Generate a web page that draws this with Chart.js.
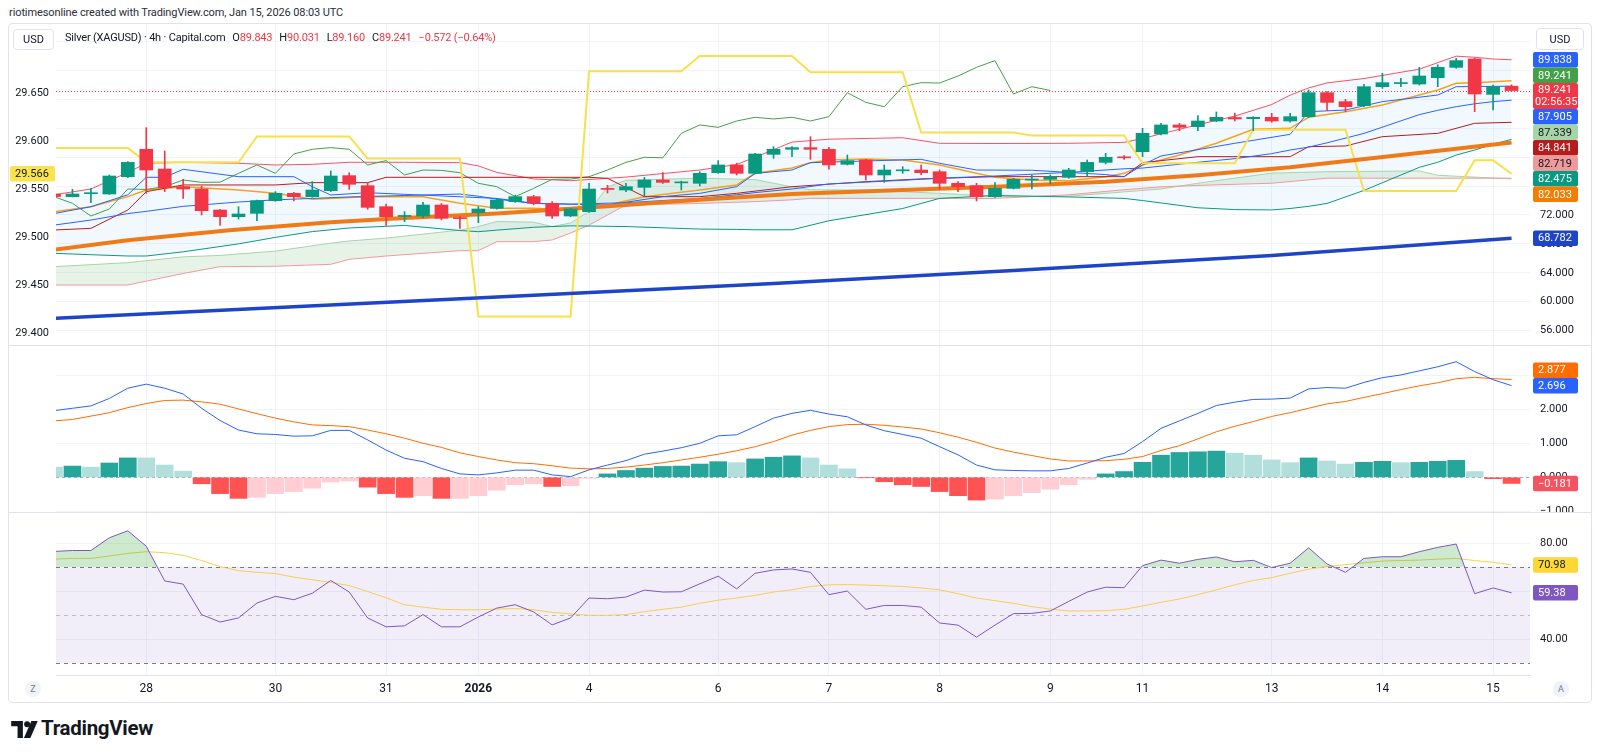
<!DOCTYPE html>
<html>
<head>
<meta charset="utf-8">
<script src="https://cdn.jsdelivr.net/npm/chart.js@4.4.1/dist/chart.umd.min.js"></script>
<style>
  body { margin: 0; width: 1600px; height: 756px; background: #fff; position: relative; overflow: hidden;
         font-family: Roboto, "Liberation Sans", sans-serif; color: #131722; }
  .abs { position: absolute; white-space: nowrap; }
  canvas { position: absolute; left: 8px; }
  #frame { left: 8px; top: 23px; width: 1584px; height: 680px; border: 1px solid #e0e3eb; border-radius: 4px; box-sizing: border-box; z-index: 5; }
  .sep { left: 8px; width: 1584px; height: 1px; background: #e0e3eb; z-index: 4; }
  .box { border: 1px solid #e0e3eb; border-radius: 4px; background: #fff; font-size: 11px; display: flex; align-items: center; justify-content: center; box-sizing: border-box; z-index: 6; }
  .legend { font-size: 11px; letter-spacing: -0.2px; top: 31px; left: 65px; z-index: 6; }
  .legend span.g { margin-left: 7px; }
  .red { color: #F23645; }
  .circ { width: 16px; height: 16px; border-radius: 8px; background: #f0f3fa; color: #787b86; font-size: 9px; display: flex; align-items: center; justify-content: center; }
</style>
</head>
<body>
<div class="abs" style="left:9px;top:6px;font-size:11px;letter-spacing:-0.1px;color:#2a2e39;">riotimesonline created with TradingView.com, Jan 15, 2026 08:03 UTC</div>

<canvas id="main" width="1584" height="321" style="top:24px"></canvas>
<canvas id="macd" width="1584" height="167" style="top:345px"></canvas>
<canvas id="rsi" width="1584" height="190" style="top:512px"></canvas>

<div id="frame" class="abs"></div>
<div class="abs sep" style="top:345px"></div>
<div class="abs sep" style="top:512px"></div>

<div class="abs box" style="left:13px;top:29px;width:41px;height:21px;">USD</div>
<div class="abs box" style="left:1536px;top:28px;width:48px;height:22px;">USD</div>

<div class="abs legend">Silver (XAGUSD) · 4h · Capital.com<span class="g">O<span class="red">89.843</span></span><span class="g">H<span class="red">90.031</span></span><span class="g">L<span class="red">89.160</span></span><span class="g">C<span class="red">89.241</span></span><span class="g red">−0.572 (−0.64%)</span></div>

<div class="abs circ" style="left:25px;top:681px;">Z</div>
<div class="abs circ" style="left:1553px;top:681px;">A</div>

<svg class="abs" style="left:11px;top:721px" width="28" height="17" viewBox="0 0 26 16">
  <path d="M0 0 H11 V16 H6 V5 H0 Z" fill="#131722"/>
  <circle cx="15" cy="3" r="2.8" fill="#131722"/>
  <path d="M19 0 H25 L18 16 H12 Z" fill="#131722"/>
</svg>
<div class="abs" style="left:41px;top:716px;font-size:20.5px;font-weight:700;letter-spacing:-0.3px;">TradingView</div>

<script>
// ---- time axis ----
const dayTicks = [5, 12, 18, 23, 29, 36, 42, 48, 54, 59, 66, 72, 78];
const dayLabels = ['28', '30', '31', '2026', '4', '6', '7', '8', '9', '11', '13', '14', '15'];

// ---- 4h candles ----
const opens = [74.90,74.54,74.95,74.91,77.31,81.10,78.37,75.92,75.60,72.69,
  71.77,72.23,73.98,75.00,74.54,75.37,77.45,76.06,73.15,71.80,
  71.86,73.38,71.60,72.32,72.92,73.85,74.54,73.62,71.86,72.46,
  75.65,75.46,75.83,76.85,76.45,76.39,77.86,78.93,77.77,80.40,
  81.10,81.33,81.10,79.02,79.62,77.54,78.12,78.23,78.00,76.39,
  76.06,74.54,75.69,76.85,76.94,77.22,78.00,79.29,80.00,80.77,
  83.22,84.47,84.24,85.02,85.50,85.34,85.53,85.02,85.62,88.94,
  87.70,87.14,89.77,90.20,90.14,91.02,92.45,93.61,88.71,89.843];
const highs = [74.95,75.56,75.69,77.54,79.39,84.10,80.86,76.94,76.00,72.78,
  73.15,74.08,75.23,75.15,76.62,78.09,77.86,76.48,73.52,72.46,
  73.75,73.60,71.80,73.15,74.31,74.75,74.72,73.85,72.92,76.39,
  76.10,76.39,77.22,77.86,76.69,78.00,79.53,79.16,80.54,81.46,
  81.46,82.85,81.37,80.31,79.71,78.93,78.69,78.93,78.23,76.62,
  76.39,76.48,77.08,77.54,77.54,78.46,79.62,80.54,80.22,84.00,
  84.70,84.70,85.76,86.27,86.10,85.62,86.08,86.08,89.31,89.08,
  88.02,90.10,91.62,90.93,92.45,92.80,93.70,93.75,89.99,90.031];
const lows = [74.50,74.50,73.71,74.85,77.17,75.00,75.23,74.31,72.00,70.57,
  71.45,71.20,73.90,73.94,74.45,75.25,75.55,72.78,70.57,71.08,
  71.60,71.31,70.15,70.94,72.80,73.75,73.40,71.54,71.75,72.37,
  75.05,75.23,74.68,76.39,75.46,76.02,77.77,77.54,77.68,79.85,
  80.08,79.71,78.33,78.93,76.85,76.52,77.77,77.59,75.55,75.23,
  73.94,74.45,75.60,75.60,76.29,77.08,77.40,79.06,79.71,80.08,
  83.08,83.68,83.68,84.93,85.02,83.68,84.84,84.84,85.48,86.45,
  86.31,87.00,89.54,89.77,90.00,89.77,92.31,86.31,86.54,89.160];
const closes = [74.55,74.91,75.00,77.40,79.29,78.23,75.79,75.60,72.60,71.77,
  72.14,73.98,75.00,74.54,75.46,77.40,76.25,73.06,71.77,71.85,
  73.38,71.54,71.50,72.83,74.08,74.54,73.62,71.86,72.83,75.60,
  75.55,75.92,76.85,76.52,76.55,77.77,78.93,77.77,80.45,81.10,
  81.33,81.10,78.93,79.53,77.54,78.23,78.18,77.86,76.39,75.92,
  74.54,75.69,76.94,76.98,77.31,78.23,79.29,79.99,79.92,83.31,
  84.47,84.14,85.02,85.53,85.30,85.53,85.02,85.62,88.94,87.60,
  87.00,89.77,90.33,90.28,91.25,92.45,93.38,88.76,89.77,89.241];

// ---- Bollinger Bands ----
const bbX = [0,2,4,5,7,10,12,14,16,19,22,23,24,26,28,31,35,37,38,40,42,46,48,51,55,58,59,62,64,66,67,68,69,71,74,75,76,77,78,79];
const bbUpper = [74.8,75.6,77.9,79.16,79.3,79.16,78.93,79.02,79.3,79.3,79.25,78.8,77.9,77.0,76.75,77.25,78.23,79.0,80.0,82.1,
  82.5,82.7,81.93,81.9,81.93,82.06,82.6,84.5,85.7,87.3,88.6,89.6,90.3,90.9,92.2,93.1,94.0,93.85,93.6,93.5];
const bbLower = [66.69,66.5,66.32,66.32,66.9,68.0,68.9,69.7,70.2,70.55,69.85,69.69,69.9,70.3,70.5,70.4,70.05,70.0,69.95,69.95,
  71.2,72.9,74.3,74.7,74.5,74.3,74.0,73.0,72.75,72.7,72.9,73.2,73.6,75.4,78.6,79.3,80.3,81.0,81.8,82.48];
const bbBasis = [70.6,71.3,72.2,72.5,73.2,73.8,74.1,74.3,74.5,74.7,74.9,74.6,74.2,73.6,73.5,73.7,74.3,74.8,75.1,75.6,
  76.3,76.8,77.1,77.4,77.9,78.4,78.5,79.3,79.8,80.5,81.0,81.4,82.0,83.3,85.9,86.5,87.0,87.4,87.7,87.905];

// ---- Ichimoku ----
const cloudX = [0,4,7,9,12,15,16,18,22,23,24,26,27,28,29,30,31,35,38,40,41,44,48,51,55,58,60,62,66,69,74,75,79];
const spanA = [64.84,65.4,66.2,66.4,67.0,68.1,68.4,68.8,69.9,70.4,71.1,71.0,70.4,70.9,72.5,75.9,76.8,77.1,76.9,75.9,
  75.5,75.46,75.0,74.6,74.6,75.2,75.6,76.4,77.8,78.0,78.1,77.5,77.0];
const spanB = [62.3,62.3,63.9,64.84,64.9,65.17,65.86,66.32,67.06,67.06,68.31,68.31,68.54,69.5,70.6,72.0,73.4,73.6,73.85,74.1,
  74.3,74.3,74.3,74.3,74.8,75.5,75.9,76.1,76.4,77.1,77.1,77.1,77.1];
const conversion = [[0,72.2],[2,73.15],[4,74.8],[5,77.22],[6,77.22],[7,78.33],[10,77.31],[13,77.31],[14,75.92],[15,74.77],
  [17,75.09],[24,74.3],[26,73.62],[30,73.38],[33,74.54],[35,75.0],[37,75.92],[38,77.77],[40,78.23],[41,79.25],
  [47,79.71],[48,79.16],[50,78.23],[53,78.2],[57,77.6],[58,77.31],[59,78.93],[60,80.17],[64,81.93],[67,83.17],
  [68,86.31],[70,86.54],[72,87.7],[75,88.62],[76,89.77],[79,89.84]];
const baseLine = [[0,69.92],[2,70.15],[4,72.69],[5,75.23],[7,76.16],[12,76.16],[14,76.48],[17,76.48],[18,77.22],[29,77.22],
  [30,77.08],[32,74.54],[35,74.54],[37,75.0],[40,75.92],[44,76.62],[47,77.0],[51,77.31],[58,77.31],[59,79.25],
  [62,80.08],[67,80.08],[68,81.46],[70,81.56],[72,82.85],[75,83.31],[77,84.7],[79,84.84]];
const laggingShift = 25;

// ---- moving averages ----
const emaFast = [[0,72.46],[2,73.15],[4,74.54],[5,75.46],[7,75.92],[10,75.46],[12,75.0],[14,74.17],[17,74.54],[20,74.54],
  [22,73.62],[24,72.92],[26,72.92],[28,72.69],[30,73.38],[32,74.54],[35,75.46],[37,76.16],[38,77.77],[40,78.5],
  [41,79.25],[42,79.62],[44,79.76],[46,79.62],[48,78.92],[50,77.77],[51,77.22],[53,76.85],[55,76.75],[57,77.31],
  [58,77.77],[59,78.92],[61,80.31],[63,81.93],[65,83.87],[67,84.0],[68,85.53],[70,86.31],[72,87.24],[75,89.31],
  [76,90.24],[77,90.33],[79,90.6]];
const emaMid = [[0,67.2],[4,68.5],[9.5,69.9],[15,71.0],[19,71.6],[24,72.2],[30,73.2],[35,74.1],[40,74.9],[46,75.45],
  [51,75.9],[57,76.6],[62,77.5],[67,78.6],[73,80.3],[79,82.03]];
const emaSlow = [[0,57.7],[13,59.3],[26,60.9],[39,62.5],[52,64.3],[66,66.4],[79,68.78]];

// ---- overlay on the left scale ----
const overlay = [[0,29.593],[4,29.593],[5,29.578],[10,29.578],[11,29.605],[16,29.605],[17,29.582],[22,29.582],[23,29.417],
  [28,29.417],[29,29.673],[34,29.673],[35,29.689],[40,29.689],[41,29.672],[46,29.672],[47,29.609],[52,29.609],
  [53,29.606],[58,29.606],[59,29.577],[64,29.577],[65,29.612],[70,29.612],[71,29.548],[76,29.548],[77,29.580],
  [78,29.580],[79,29.566]];

// ---- MACD ----
const macdLine = [1.96,2.03,2.10,2.32,2.62,2.74,2.62,2.45,2.03,1.67,
  1.39,1.28,1.26,1.21,1.22,1.38,1.38,1.10,0.80,0.56,
  0.46,0.26,0.10,0.07,0.13,0.21,0.21,0.07,0.02,0.22,
  0.36,0.49,0.68,0.77,0.87,1.00,1.22,1.25,1.49,1.74,
  1.88,1.97,1.86,1.78,1.54,1.37,1.26,1.15,0.90,0.66,
  0.36,0.22,0.20,0.19,0.19,0.26,0.42,0.59,0.70,1.05,
  1.44,1.66,1.88,2.11,2.21,2.29,2.30,2.33,2.60,2.64,
  2.62,2.79,2.93,3.01,3.13,3.25,3.40,3.11,2.87,2.696];
const signalLine = [1.66,1.70,1.80,1.90,2.05,2.17,2.26,2.27,2.22,2.15,
  2.01,1.87,1.74,1.63,1.54,1.52,1.49,1.39,1.28,1.15,
  1.00,0.88,0.72,0.61,0.51,0.43,0.40,0.34,0.27,0.25,
  0.26,0.30,0.36,0.43,0.51,0.59,0.68,0.78,0.90,1.05,
  1.24,1.38,1.49,1.55,1.56,1.53,1.48,1.42,1.31,1.18,
  1.03,0.86,0.74,0.64,0.54,0.48,0.48,0.49,0.53,0.61,
  0.79,0.93,1.13,1.34,1.50,1.64,1.79,1.90,2.03,2.16,
  2.23,2.35,2.46,2.58,2.69,2.78,2.90,2.94,2.90,2.877];
const histogram = [0.30,0.33,0.30,0.42,0.57,0.57,0.36,0.18,-0.19,-0.48,
  -0.62,-0.59,-0.48,-0.42,-0.32,-0.14,-0.11,-0.29,-0.48,-0.59,
  -0.54,-0.62,-0.62,-0.54,-0.38,-0.22,-0.19,-0.27,-0.25,-0.03,
  0.10,0.20,0.27,0.32,0.33,0.39,0.46,0.43,0.54,0.59,
  0.63,0.57,0.36,0.25,-0.01,-0.13,-0.22,-0.27,-0.42,-0.54,
  -0.67,-0.64,-0.54,-0.45,-0.35,-0.22,-0.06,0.10,0.17,0.44,
  0.65,0.73,0.75,0.77,0.71,0.65,0.51,0.43,0.57,0.48,
  0.39,0.44,0.47,0.43,0.44,0.47,0.50,0.17,-0.04,-0.181];

// ---- RSI ----
const rsi = [76.6,77.0,77.0,82.3,85.2,78.8,64.3,63.0,50.3,47.2,
  48.9,55.1,57.9,56.5,59.2,64.5,59.7,48.9,45.2,45.6,
  50.3,45.2,45.2,49.3,53.0,54.4,51.4,46.0,48.9,57.2,
  56.9,57.6,60.5,59.7,59.8,63.1,66.3,61.0,67.5,68.9,
  69.3,67.9,58.6,60.1,52.5,54.1,54.1,53.4,46.8,45.9,
  40.9,45.9,50.7,50.8,51.8,55.8,59.7,61.7,61.5,70.7,
  73.0,71.7,73.3,74.3,72.3,72.9,69.9,71.7,78.1,71.4,
  67.9,73.7,74.4,74.4,76.5,78.3,79.7,59.0,61.4,59.38];
const rsiMa = [73.4,73.7,73.7,74.7,75.8,76.5,76.1,75.0,72.8,70.3,
  68.6,67.9,67.4,65.9,64.8,63.7,62.4,59.9,57.3,54.4,
  53.4,52.5,52.3,52.3,52.6,52.8,52.3,51.2,50.6,50.0,
  50.0,50.3,51.5,52.5,53.4,55.0,56.3,57.2,58.3,59.7,
  60.6,62.0,62.7,62.8,62.6,62.3,62.0,61.4,60.6,59.0,
  57.2,56.1,55.0,53.6,52.6,51.8,51.8,51.9,52.5,53.9,
  55.4,56.8,58.6,60.6,62.7,64.5,65.7,67.5,69.2,70.3,
  71.1,71.9,72.6,72.8,73.0,73.4,73.7,72.8,72.1,70.98];
const rsiLevels = [70, 50, 30];

// ---- axis ticks and price tags ----
const priceTicks = [56, 60, 64, 68, 72, 76, 80, 84, 88, 92, 96];
const priceShown = [56, 60, 64, 68, 72];
const leftTicks = [29.40, 29.45, 29.50, 29.55, 29.60, 29.65];
const macdTicks = [-1, 0, 1, 2, 3];
const rsiTicks = [40, 60, 80];
const lastPrice = 89.241;
const mainTags = [
  { v: 89.838, d: 3, bg: '#2962FF', fg: '#fff' },
  { v: 89.241, d: 3, bg: '#43A047', fg: '#fff' },
  { v: 89.241, d: 3, bg: '#F23645', fg: '#fff', sub: '02:56:35' },
  { v: 87.905, d: 3, bg: '#2962FF', fg: '#fff' },
  { v: 87.339, d: 3, bg: '#A5D6A7', fg: '#131722' },
  { v: 84.841, d: 3, bg: '#B71C1C', fg: '#fff' },
  { v: 82.719, d: 3, bg: '#EF9A9A', fg: '#131722' },
  { v: 82.475, d: 3, bg: '#089981', fg: '#fff' },
  { v: 82.033, d: 3, bg: '#F57C00', fg: '#fff' },
  { v: 68.782, d: 3, bg: '#1E45C8', fg: '#fff' }
];
const leftTags = [{ v: 29.566, d: 3, bg: '#FBE44B', fg: '#131722' }];
const macdTags = [
  { v: 2.877, d: 3, bg: '#FF6D00', fg: '#fff' },
  { v: 2.696, d: 3, bg: '#2962FF', fg: '#fff' },
  { v: -0.181, d: 3, bg: '#F7525F', fg: '#fff' }
];
const rsiTags = [
  { v: 70.98, d: 2, bg: '#FDD835', fg: '#131722' },
  { v: 59.38, d: 2, bg: '#7E57C2', fg: '#fff' }
];

const FONT = 'Roboto, "Liberation Sans", sans-serif';
Chart.defaults.font.family = FONT;
Chart.defaults.color = '#131722';
const UP = '#089981', DOWN = '#F23645', GRID = '#f0f3fa';

const pts = arr => arr.map(p => ({ x: p[0], y: p[1] }));
const zipPts = (xs, ys) => xs.map((x, i) => ({ x: x, y: ys[i] }));
const idxPts = arr => arr.map((v, i) => ({ x: i, y: v }));
const fmt = t => t.v.toFixed(t.d).replace('-', '−');

// fixed axis sizes, and no label overhang padding, so the panes line up
function fitY(width) {
  return s => { s.width = width; s.paddingTop = 0; s.paddingBottom = 0; };
}

function xScale(withLabels) {
  return {
    type: 'linear', min: 0.108, max: 80.0, offset: false,
    afterBuildTicks: s => { s.ticks = dayTicks.map(v => ({ value: v })); },
    afterFit: s => { s.height = withLabels ? 27 : 0; s.paddingLeft = 0; s.paddingRight = 0; },
    grid: { color: GRID, drawTicks: false, offset: false },
    border: { display: withLabels, color: '#e0e3eb' },
    ticks: {
      display: withLabels, padding: 7, maxRotation: 0, autoSkip: false,
      font: c => ({ size: 12, weight: (c.tick && c.tick.value === 23) ? 'bold' : 'normal' }),
      callback: v => { const k = dayTicks.indexOf(v); return k >= 0 ? dayLabels[k] : ''; }
    }
  };
}

function line(data, color, width, extra) {
  return Object.assign({ type: 'line', data: data, borderColor: color, borderWidth: width,
    pointRadius: 0, tension: 0, fill: false, order: 5 }, extra || {});
}

function drawTags(chart, sc, tags, fixedIdx, side) {
  const ctx = chart.ctx, H = 15.5, W = 45;
  const items = tags.map(t => ({ t: t, ny: sc.getPixelForValue(t.v), h: t.sub ? 26 : H }));
  items.forEach(it => { it.cy = it.t.sub ? it.ny + 5.5 : it.ny; });
  if (fixedIdx != null) {
    let top = items[fixedIdx].cy - items[fixedIdx].h / 2;
    for (let i = fixedIdx - 1; i >= 0; i--) {
      const it = items[i]; it.cy = Math.min(it.ny, top - it.h / 2); top = it.cy - it.h / 2;
    }
    let bot = items[fixedIdx].cy + items[fixedIdx].h / 2;
    for (let i = fixedIdx + 1; i < items.length; i++) {
      const it = items[i]; it.cy = Math.max(it.ny, bot + it.h / 2); bot = it.cy + it.h / 2;
    }
  }
  const x0 = side === 'left' ? 2 : chart.chartArea.right + 3;
  ctx.save();
  ctx.font = '11px ' + FONT;
  ctx.textBaseline = 'middle';
  items.forEach(it => {
    const top = it.cy - it.h / 2;
    ctx.fillStyle = it.t.bg;
    ctx.beginPath(); ctx.roundRect(x0, top, W, it.h, 2); ctx.fill();
    ctx.fillStyle = it.t.fg;
    if (it.t.sub) {
      ctx.fillText(fmt(it.t), x0 + 5, top + 7.5);
      ctx.fillText(it.t.sub, x0 + 2, top + 19);
    } else {
      ctx.fillText(fmt(it.t), x0 + 5, it.cy + 0.5);
    }
  });
  ctx.restore();
}

// ---- main pane ----
new Chart(document.getElementById('main'), {
  type: 'bar',
  data: {
    datasets: [
      { type: 'bar', data: closes.map((c, i) => ({ x: i, y: [lows[i], highs[i]] })),
        backgroundColor: closes.map((c, i) => c >= opens[i] ? UP : DOWN),
        barThickness: 1, grouped: false, order: 1, yAxisID: 'y' },
      { type: 'bar', data: closes.map((c, i) => ({ x: i, y: [Math.min(opens[i], c), Math.max(opens[i], c)] })),
        backgroundColor: closes.map((c, i) => c >= opens[i] ? UP : DOWN),
        barThickness: 13, minBarLength: 1, grouped: false, order: 0, yAxisID: 'y' },
      line(zipPts(bbX, bbUpper), '#F7525F', 1, { order: 9,
        fill: { target: '+1', above: 'rgba(33,150,243,0.06)', below: 'rgba(33,150,243,0.06)' } }),
      line(zipPts(bbX, bbLower), '#089981', 1),
      line(zipPts(bbX, bbBasis), '#2962FF', 1),
      line(zipPts(cloudX, spanA), '#A5D6A7', 1, { order: 8,
        fill: { target: '+1', above: 'rgba(67,160,71,0.13)', below: 'rgba(244,67,54,0.13)' } }),
      line(zipPts(cloudX, spanB), '#EF9A9A', 1),
      line(pts(conversion), '#2962FF', 1),
      line(pts(baseLine), '#B71C1C', 1),
      line(idxPts(closes.slice(laggingShift)), '#43A047', 1),
      line(pts(emaFast), '#F7A21B', 1.5),
      line(pts(emaMid), '#F07B16', 4, { order: 3 }),
      line(pts(emaSlow), '#1E45C8', 3.5, { order: 3 }),
      line(pts(overlay), '#F9E04B', 2, { yAxisID: 'yL', order: 4 })
    ]
  },
  options: {
    responsive: false, animation: false, devicePixelRatio: 1,
    layout: { padding: 0 },
    plugins: { legend: { display: false }, tooltip: { enabled: false } },
    scales: {
      x: xScale(false),
      y: {
        position: 'right', min: 53.994, max: 98.454,
        afterFit: fitY(62),
        afterBuildTicks: s => { s.ticks = priceTicks.map(v => ({ value: v })); },
        grid: { color: GRID, drawTicks: false },
        border: { display: false },
        ticks: { padding: 10, font: { size: 11 }, callback: v => priceShown.includes(v) ? v.toFixed(3) : '' }
      },
      yL: {
        position: 'left', min: 29.3873, max: 29.7223,
        afterFit: fitY(48),
        afterBuildTicks: s => { s.ticks = leftTicks.map(v => ({ value: v })); },
        grid: { display: false, drawTicks: false },
        border: { display: false },
        ticks: { padding: 7, font: { size: 11 }, callback: v => v.toFixed(3) }
      }
    }
  },
  plugins: [{
    id: 'mainDeco',
    beforeDatasetsDraw(chart) {
      const ctx = chart.ctx, a = chart.chartArea, y = chart.scales.y.getPixelForValue(lastPrice);
      ctx.save();
      ctx.strokeStyle = '#F23645'; ctx.lineWidth = 1; ctx.setLineDash([1, 2]);
      ctx.beginPath(); ctx.moveTo(a.left, Math.round(y) + 0.5); ctx.lineTo(a.right, Math.round(y) + 0.5); ctx.stroke();
      ctx.restore();
    },
    afterDraw(chart) {
      drawTags(chart, chart.scales.y, mainTags, 2, 'right');
      drawTags(chart, chart.scales.yL, leftTags, null, 'left');
    }
  }]
});

// ---- MACD pane ----
function histColor(i) {
  const h = histogram[i], p = i > 0 ? histogram[i - 1] : h;
  if (h >= 0) return h > p ? '#26A69A' : '#B2DFDB';
  return h < p ? '#FF5252' : '#FFCDD2';
}
new Chart(document.getElementById('macd'), {
  type: 'bar',
  data: {
    datasets: [
      { type: 'bar', data: idxPts(histogram), backgroundColor: histogram.map((h, i) => histColor(i)),
        barThickness: 17, grouped: false, order: 5 },
      line(idxPts(macdLine), '#2962FF', 1, { order: 1 }),
      line(idxPts(signalLine), '#FF6D00', 1, { order: 2 })
    ]
  },
  options: {
    responsive: false, animation: false, devicePixelRatio: 1,
    layout: { padding: { left: 48 } },
    plugins: { legend: { display: false }, tooltip: { enabled: false } },
    scales: {
      x: xScale(false),
      y: {
        position: 'right', min: -1.0206, max: 3.891,
        afterFit: fitY(62),
        afterBuildTicks: s => { s.ticks = macdTicks.map(v => ({ value: v })); },
        grid: { color: GRID, drawTicks: false },
        border: { display: false },
        ticks: { padding: 10, font: { size: 11 }, callback: v => v.toFixed(3).replace('-', '−') }
      }
    }
  },
  plugins: [{
    id: 'macdDeco',
    beforeDatasetsDraw(chart) {
      const ctx = chart.ctx, a = chart.chartArea, y = Math.round(chart.scales.y.getPixelForValue(0)) + 0.5;
      ctx.save();
      ctx.strokeStyle = 'rgba(120,123,134,0.6)'; ctx.setLineDash([3, 3]); ctx.lineWidth = 1;
      ctx.beginPath(); ctx.moveTo(a.left, y); ctx.lineTo(a.right, y); ctx.stroke();
      ctx.restore();
    },
    afterDraw(chart) { drawTags(chart, chart.scales.y, macdTags, 1, 'right'); }
  }]
});

// ---- RSI pane ----
new Chart(document.getElementById('rsi'), {
  type: 'line',
  data: {
    datasets: [
      line(idxPts(rsi), '#7E57C2', 1, { order: 1,
        fill: { target: { value: rsiLevels[0] }, above: 'rgba(76,175,80,0.28)', below: 'rgba(0,0,0,0)' } }),
      line(idxPts(rsiMa), '#F5CF52', 1, { order: 2 })
    ]
  },
  options: {
    responsive: false, animation: false, devicePixelRatio: 1,
    layout: { padding: { left: 48 } },
    plugins: { legend: { display: false }, tooltip: { enabled: false } },
    scales: {
      x: xScale(true),
      y: {
        position: 'right', min: 25.125, max: 93.04,
        afterFit: fitY(62),
        afterBuildTicks: s => { s.ticks = rsiTicks.map(v => ({ value: v })); },
        grid: { color: GRID, drawTicks: false },
        border: { display: false },
        ticks: { padding: 10, font: { size: 11 }, callback: v => v.toFixed(2) }
      }
    }
  },
  plugins: [{
    id: 'rsiDeco',
    beforeDatasetsDraw(chart) {
      const ctx = chart.ctx, a = chart.chartArea, sc = chart.scales.y;
      const yHi = sc.getPixelForValue(rsiLevels[0]), yLo = sc.getPixelForValue(rsiLevels[2]);
      ctx.save();
      ctx.fillStyle = 'rgba(126,87,194,0.1)';
      ctx.fillRect(a.left, yHi, a.right - a.left, yLo - yHi);
      ctx.lineWidth = 1; ctx.setLineDash([4, 4]);
      rsiLevels.forEach((lv, k) => {
        const y = Math.round(sc.getPixelForValue(lv)) + 0.5;
        ctx.strokeStyle = k === 1 ? 'rgba(120,123,134,0.45)' : '#787B86';
        ctx.beginPath(); ctx.moveTo(a.left, y); ctx.lineTo(a.right, y); ctx.stroke();
      });
      ctx.restore();
    },
    afterDraw(chart) { drawTags(chart, chart.scales.y, rsiTags, null, 'right'); }
  }]
});
</script>
</body>
</html>
